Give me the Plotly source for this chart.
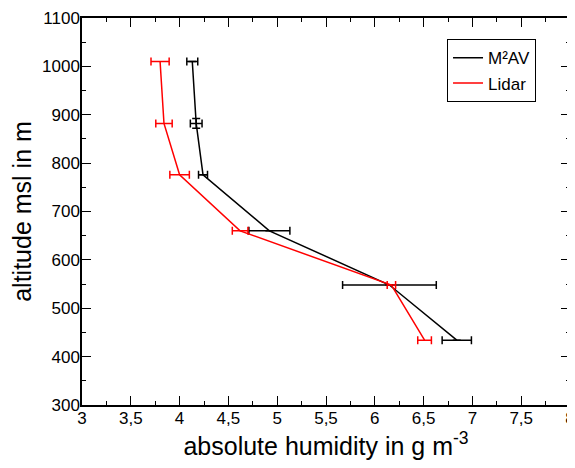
import plotly.graph_objects as go

# Data
altitude = [1010, 882, 776, 660, 548, 434]

m2av_hum = [4.13, 4.17, 4.24, 4.92, 6.15, 6.84]
m2av_xerr = [0.056, 0.06, 0.046, 0.21, 0.48, 0.15]
m2av_yerr = [0, 10, 0, 0, 0, 0]

lidar_hum = [3.80, 3.84, 4.00, 4.62, 6.17, 6.51]
lidar_xerr = [0.093, 0.084, 0.10, 0.08, 0.043, 0.07]

x_tickvals = [3, 3.5, 4, 4.5, 5, 5.5, 6, 6.5, 7, 7.5, 8]
x_ticktext = ["3", "3,5", "4", "4,5", "5", "5,5", "6", "6,5", "7", "7,5", "8"]
y_tickvals = [300, 400, 500, 600, 700, 800, 900, 1000, 1100]
y_ticktext = ["300", "400", "500", "600", "700", "800", "900", "1000", "1100"]

FONT = "Liberation Sans, Arial, Helvetica, sans-serif"

fig = go.Figure()
fig.add_trace(go.Scatter(
    x=m2av_hum, y=altitude, mode="lines", name="M²AV",
    line=dict(color="black", width=1.5),
    error_x=dict(type="data", array=m2av_xerr, color="black", thickness=1.5, width=4),
    error_y=dict(type="data", array=m2av_yerr, color="black", thickness=1.5, width=4),
))
fig.add_trace(go.Scatter(
    x=lidar_hum, y=altitude, mode="lines", name="Lidar",
    line=dict(color="red", width=1.5),
    error_x=dict(type="data", array=lidar_xerr, color="red", thickness=1.5, width=4),
))

axis_common = dict(
    showline=True, linecolor="black", linewidth=1.5, mirror="allticks",
    ticks="inside", ticklen=9, tickwidth=1, tickcolor="black",
    showgrid=False, zeroline=False, automargin=False,
    ticklabelstandoff=-3, ticklabeloverflow="allow",
    tickfont=dict(size=17, color="black", family=FONT),
)

fig.update_xaxes(
    range=[3, 8], tickvals=x_tickvals, ticktext=x_ticktext,
    minor=dict(ticks="inside", ticklen=4, dtick=0.25, tickcolor="black", tickwidth=1),
    title=dict(text="absolute humidity in g m<sup>-3</sup>", font=dict(size=25, color="black", family=FONT), standoff=4),
    **axis_common,
)
fig.update_yaxes(
    range=[300, 1100], tickvals=y_tickvals, ticktext=y_ticktext,
    minor=dict(ticks="inside", ticklen=4, dtick=50, tickcolor="black", tickwidth=1),
    title=dict(text="altitude msl in m", font=dict(size=25, color="black", family=FONT), standoff=4),
    **axis_common,
)

# The page body adds an 8 px offset, so the figure is 8 px smaller on each axis
fig.update_layout(
    width=567, height=460,
    margin=dict(l=74, r=5, t=10, b=63),
    plot_bgcolor="white", paper_bgcolor="white",
    font=dict(family=FONT, color="black"),
    legend=dict(
        x=0.748, y=0.945, xanchor="left", yanchor="top",
        bgcolor="white", bordercolor="black", borderwidth=1,
        font=dict(size=17, color="black", family=FONT),
        itemwidth=30, tracegroupgap=0,
    ),
    showlegend=True,
)

fig.write_html("out.html")
